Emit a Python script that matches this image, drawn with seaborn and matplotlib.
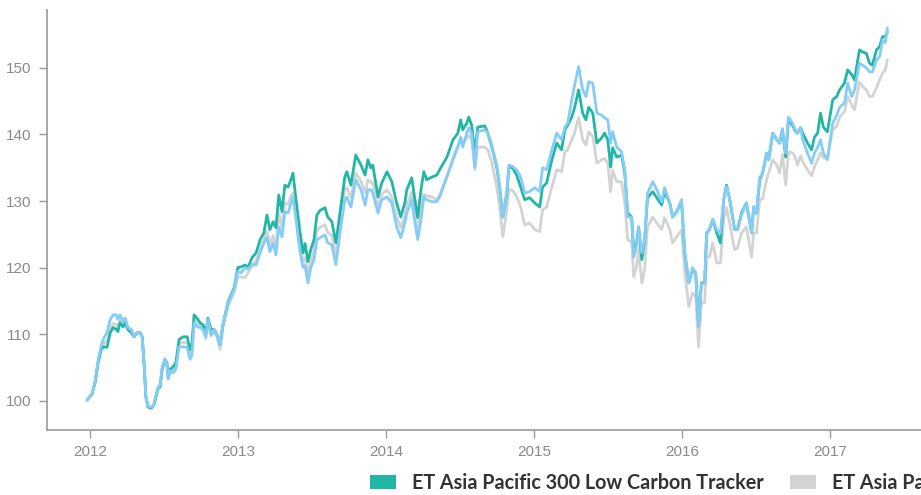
import numpy as np
import pandas as pd
import matplotlib
matplotlib.use("Agg")
import matplotlib.pyplot as plt
import matplotlib.patches as mpatches
import matplotlib.dates as mdates
import seaborn as sns

# ---------------- data ----------------
start_date = "2011-12-25"
days_since_start = [
    0, 12, 20, 27, 35, 42, 49, 57, 64, 72, 76, 81, 89, 94, 101, 109, 116, 123, 131, 136,
    141, 145, 150, 158, 165, 170, 175, 180, 185, 192, 197, 200, 205, 212, 219, 227, 237, 247, 254, 259,
    264, 271, 279, 286, 293, 298, 306, 313, 321, 328, 335, 348, 363, 372, 380, 390, 397, 407, 417, 427,
    436, 444, 451, 459, 466, 473, 481, 488, 496, 503, 508, 515, 525, 533, 538, 545, 552, 560, 567, 575,
    587, 594, 604, 614, 624, 636, 641, 651, 663, 676, 686, 693, 700, 705, 718, 727, 740, 752, 764, 774,
    784, 789, 801, 809, 816, 824, 831, 838, 851, 863, 870, 888, 903, 915, 922, 927, 937, 942, 949, 957,
    964, 981, 989, 999, 1011, 1018, 1026, 1036, 1041, 1050, 1060, 1070, 1080, 1092, 1105, 1117, 1124, 1134, 1147, 1159,
    1171, 1179, 1186, 1196, 1203, 1213, 1223, 1231, 1238, 1248, 1258, 1270, 1277, 1285, 1292, 1297, 1307, 1319, 1327, 1334,
    1344, 1349, 1356, 1361, 1369, 1376, 1383, 1396, 1406, 1418, 1425, 1438, 1445, 1455, 1467, 1475, 1485, 1494, 1502, 1509,
    1516, 1524, 1529, 1536, 1544, 1554, 1563, 1571, 1578, 1586, 1598, 1605, 1615, 1627, 1640, 1645, 1652, 1660, 1667, 1677,
    1682, 1692, 1702, 1709, 1716, 1724, 1731, 1741, 1746, 1753, 1761, 1766, 1778, 1788, 1795, 1803, 1810, 1817, 1827, 1840,
    1850, 1857, 1869, 1877, 1887, 1894, 1906, 1914, 1923, 1931, 1938, 1948, 1956, 1963, 1970, 1975,
]

low_carbon = [
    100.1, 101.0, 102.8, 105.7, 107.8, 108.1, 108.0, 110.2, 111.0, 110.7, 110.4, 111.7, 111.1, 111.7, 110.7, 110.2, 109.6, 110.2, 110.2, 109.6,
    105.1, 100.6, 99.1, 98.9, 99.4, 100.6, 101.9, 102.1, 104.7, 106.2, 105.7, 103.5, 104.7, 105.1, 105.7, 109.2, 109.6, 109.6, 107.7, 108.7,
    112.9, 112.4, 111.7, 111.4, 110.2, 112.4, 110.7, 110.7, 109.9, 108.4, 111.4, 114.9, 117.0, 120.0, 120.1, 120.4, 120.0, 121.5, 122.2, 124.2,
    125.2, 127.9, 125.7, 126.9, 126.0, 130.9, 128.4, 132.4, 132.1, 133.2, 134.2, 130.5, 125.5, 122.2, 123.6, 120.9, 122.7, 124.2, 127.9, 128.6,
    129.0, 127.6, 126.9, 123.7, 128.2, 133.6, 134.4, 132.4, 136.9, 135.4, 133.9, 136.2, 135.0, 135.4, 130.6, 132.7, 134.4, 132.9, 129.7, 127.6,
    129.7, 131.7, 133.5, 130.2, 127.5, 131.7, 134.4, 133.2, 133.6, 133.9, 134.7, 136.6, 139.2, 140.2, 142.2, 140.7, 141.7, 142.6, 141.4, 137.2,
    141.1, 141.3, 140.2, 138.1, 135.1, 132.1, 127.6, 131.2, 135.1, 135.0, 133.9, 132.1, 130.2, 130.5, 129.7, 129.1, 132.1, 132.7, 136.2, 138.7,
    137.7, 140.7, 141.4, 142.6, 144.0, 146.7, 143.2, 142.2, 144.1, 143.2, 138.7, 139.5, 140.2, 139.2, 135.1, 138.0, 136.6, 136.9, 134.2, 128.2,
    127.6, 122.2, 123.7, 126.1, 121.2, 124.2, 130.5, 131.4, 130.5, 129.4, 131.4, 129.7, 127.6, 128.4, 129.9, 122.2, 117.7, 119.7, 119.2, 111.4,
    117.7, 117.7, 125.2, 125.7, 127.2, 125.2, 123.7, 130.2, 132.4, 130.2, 125.7, 125.7, 128.2, 129.7, 125.2, 129.0, 128.2, 133.2, 134.2, 137.2,
    136.2, 140.2, 139.2, 138.7, 140.7, 136.6, 142.2, 141.4, 140.7, 140.2, 141.0, 140.2, 138.7, 137.7, 139.6, 140.2, 143.2, 141.1, 140.4, 145.2,
    145.7, 146.7, 147.7, 149.7, 149.0, 148.2, 152.7, 152.4, 152.2, 150.7, 150.4, 152.7, 153.2, 154.7, 154.7, 155.4,
]

benchmark_blue = [
    100.1, 101.0, 103.0, 106.0, 108.4, 109.5, 110.2, 112.2, 112.9, 112.9, 112.2, 112.9, 111.9, 112.4, 111.0, 110.7, 109.6, 110.2, 110.2, 109.6,
    105.1, 100.6, 99.2, 99.0, 99.4, 100.8, 102.0, 102.3, 104.9, 106.3, 105.5, 103.3, 104.5, 104.2, 104.7, 108.1, 108.1, 108.0, 106.2, 106.9,
    111.7, 111.1, 111.0, 110.7, 109.6, 112.2, 109.9, 110.7, 109.9, 108.4, 111.4, 114.7, 116.8, 119.4, 119.2, 120.0, 119.8, 120.4, 120.4, 122.2,
    123.7, 124.5, 122.4, 123.7, 121.9, 126.1, 124.6, 128.4, 128.2, 129.7, 130.5, 127.5, 122.5, 120.0, 120.3, 117.7, 120.0, 121.2, 124.2, 124.5,
    124.9, 123.7, 123.4, 120.4, 125.2, 130.2, 130.6, 129.1, 133.2, 131.7, 129.4, 131.7, 131.7, 131.2, 128.2, 130.2, 130.6, 129.7, 126.1, 124.5,
    126.7, 128.2, 130.2, 126.7, 124.2, 127.2, 130.6, 130.2, 129.9, 129.9, 130.6, 133.6, 136.2, 138.1, 139.5, 138.1, 140.2, 141.0, 140.2, 135.1,
    140.4, 140.7, 140.2, 138.3, 135.3, 132.3, 127.6, 131.5, 135.4, 135.2, 134.7, 133.6, 131.2, 131.4, 132.0, 131.4, 135.0, 134.7, 137.7, 140.2,
    139.2, 141.1, 141.7, 145.2, 147.4, 150.2, 146.7, 145.7, 147.9, 147.7, 143.2, 142.9, 142.5, 142.2, 138.7, 140.4, 138.1, 137.4, 134.7, 127.6,
    127.6, 121.6, 123.2, 126.1, 122.2, 124.2, 131.2, 132.9, 131.7, 129.9, 132.0, 129.7, 127.6, 128.4, 130.2, 122.2, 117.7, 120.0, 119.2, 111.1,
    117.5, 117.7, 125.0, 125.7, 127.2, 125.7, 125.2, 130.2, 132.2, 130.2, 125.7, 125.7, 127.9, 129.7, 125.2, 129.2, 128.2, 133.6, 134.0, 137.2,
    136.2, 140.2, 139.2, 138.7, 140.9, 137.2, 142.6, 141.7, 140.9, 140.2, 141.0, 139.2, 137.2, 135.7, 137.2, 138.1, 139.2, 137.2, 136.2, 141.7,
    142.9, 144.1, 144.7, 147.7, 145.7, 146.7, 150.7, 150.4, 150.0, 149.4, 149.4, 151.2, 151.7, 154.2, 153.8, 156.0,
]

parent_gray = [
    100.1, 101.0, 102.9, 105.8, 108.0, 108.7, 108.9, 110.8, 111.6, 111.4, 111.0, 112.0, 111.4, 111.9, 110.8, 110.4, 109.6, 110.2, 110.2, 109.6,
    105.1, 100.6, 99.0, 98.8, 99.3, 100.6, 101.8, 102.0, 104.6, 106.0, 105.4, 103.2, 104.4, 104.6, 105.1, 108.6, 108.8, 108.7, 106.9, 107.7,
    112.2, 111.6, 111.2, 110.9, 109.3, 112.0, 109.7, 110.4, 109.5, 107.7, 111.0, 114.2, 116.3, 118.6, 118.6, 118.5, 119.2, 120.4, 121.0, 122.7,
    124.2, 125.5, 123.5, 124.8, 123.0, 128.2, 126.0, 129.7, 129.5, 130.8, 131.2, 128.3, 123.5, 121.0, 121.5, 119.0, 121.0, 122.5, 125.5, 126.1,
    126.4, 125.3, 124.8, 121.6, 126.5, 131.7, 132.0, 130.5, 134.2, 133.0, 131.2, 133.2, 132.8, 132.7, 129.0, 131.0, 131.7, 130.6, 127.5, 126.0,
    127.8, 129.5, 131.3, 128.0, 125.5, 128.5, 131.0, 130.8, 130.6, 130.2, 130.9, 133.8, 136.5, 138.3, 139.7, 138.6, 139.5, 139.8, 139.3, 134.7,
    138.1, 138.1, 137.7, 135.7, 132.1, 129.1, 124.6, 128.7, 131.7, 131.6, 130.7, 129.1, 126.4, 126.7, 125.7, 125.4, 128.7, 129.1, 132.1, 134.7,
    134.4, 137.4, 137.7, 139.2, 140.2, 142.6, 139.2, 138.4, 140.4, 139.7, 135.7, 136.2, 136.4, 135.7, 131.4, 134.6, 132.9, 132.9, 129.7, 124.2,
    123.8, 118.6, 120.1, 122.7, 117.7, 119.7, 126.1, 127.6, 126.7, 125.7, 127.5, 125.7, 123.7, 124.6, 125.7, 119.2, 114.1, 116.2, 115.6, 108.1,
    114.7, 114.7, 121.6, 121.6, 123.7, 120.7, 120.7, 127.2, 129.0, 126.6, 122.7, 122.9, 125.2, 126.1, 121.6, 125.2, 125.2, 130.2, 130.3, 133.2,
    134.2, 136.2, 135.4, 134.2, 137.0, 132.4, 137.4, 137.2, 136.8, 135.4, 136.8, 135.9, 134.7, 133.8, 135.1, 136.2, 137.2, 136.5, 136.4, 140.7,
    141.2, 142.6, 143.4, 145.7, 144.4, 143.7, 147.9, 147.2, 146.7, 145.7, 145.7, 147.0, 148.2, 149.2, 149.7, 151.2,
]

series_names = [
    "ET Asia Pacific 300 Low Carbon Tracker",
    "ET Asia Pacific 300 Tracker",
    "MSCI AC Asia Pacific Index",
]
series_colors = ["#22b6a6", "#d3d3d3", "#84cdf7"]

y_ticks = [100, 110, 120, 130, 140, 150]
x_tick_years = ["2012", "2013", "2014", "2015", "2016", "2017"]

# ---------------- build frame ----------------
dates = pd.Timestamp(start_date) + pd.to_timedelta(days_since_start, unit="D")
df = pd.concat([
    pd.DataFrame({"date": dates, "value": low_carbon, "series": series_names[0]}),
    pd.DataFrame({"date": dates, "value": parent_gray, "series": series_names[1]}),
    pd.DataFrame({"date": dates, "value": benchmark_blue, "series": series_names[2]}),
])
palette = dict(zip(series_names, series_colors))

sns.set_theme(style="white")
plt.rcParams["font.family"] = ["Liberation Sans", "DejaVu Sans"]

W, H = 921, 495
fig = plt.figure(figsize=(W / 100, H / 100), dpi=100)
ax = fig.add_axes([47 / W, (H - 430) / H, (W - 47) / W, (430 - 10) / H])

draw_order = [series_names[1], series_names[0], series_names[2]]
sns.lineplot(data=df, x="date", y="value", hue="series", hue_order=draw_order,
             palette=palette, linewidth=2.0, legend=False, ax=ax, estimator=None)

ax.set_xlim(pd.Timestamp("2011-09-17"), pd.Timestamp("2017-08-13"))
ax.set_ylim(95.6, 158.7)
ax.set_yticks(y_ticks)
ax.set_yticklabels([str(v) for v in y_ticks])
ax.set_xticks([pd.Timestamp(f"{y}-01-01") for y in x_tick_years])
ax.set_xticklabels(x_tick_years)
ax.set_xlabel("")
ax.set_ylabel("")

for side in ["top", "right"]:
    ax.spines[side].set_visible(False)
for side in ["left", "bottom"]:
    ax.spines[side].set_color("#9a9a9a")
    ax.spines[side].set_linewidth(1.2)
ax.tick_params(axis="both", colors="#9a9a9a", labelcolor="#8a8a8a",
               labelsize=11, length=6, width=1, direction="out", pad=5, left=True, bottom=True)
ax.grid(False)

fs = 14.2
fs_px = fs * 100 / 72
handles = [mpatches.Patch(facecolor=c, edgecolor="none") for c in series_colors]
fig.legend(handles, series_names, loc="center left", bbox_to_anchor=(370 / W, 1 - 483 / H),
           ncol=3, frameon=False, handlelength=26 / fs_px, handleheight=13 / fs_px,
           handletextpad=16 / fs_px, columnspacing=26 / fs_px, borderaxespad=0, borderpad=0,
           prop={"family": ["Lato", "DejaVu Sans"], "weight": "bold", "size": fs},
           labelcolor="#333333")

fig.savefig("out.png", dpi=100)
